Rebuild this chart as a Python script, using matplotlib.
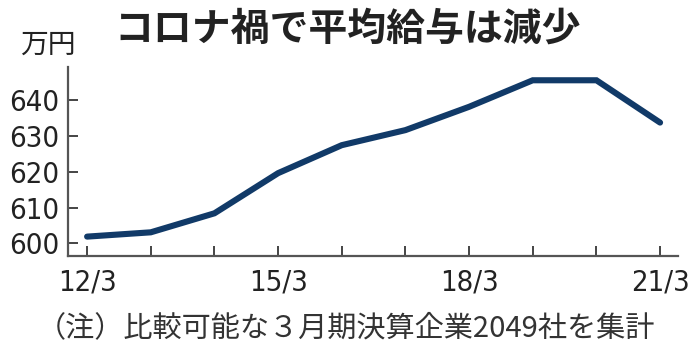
import matplotlib
matplotlib.use('Agg')
import matplotlib.pyplot as plt
import numpy as np

# data (fiscal years ending in March)
years = [12, 13, 14, 15, 16, 17, 18, 19, 20, 21]
salary = [601.9, 603.1, 608.4, 619.6, 627.4, 631.6, 638.1, 645.5, 645.5, 633.7]
yticks = [600, 610, 620, 630, 640]
xticks = [12, 13, 14, 15, 16, 17, 18, 19, 20, 21]
xlabels = ['12/3', '', '', '15/3', '', '', '18/3', '', '', '21/3']

title = 'コロナ禍で平均給与は減少'
unit = '万円'
note = '（注）比較可能な３月期決算企業2049社を集計'

jp = ['Noto Sans CJK JP', 'DejaVu Sans']

fig = plt.figure(figsize=(6.96, 3.61), dpi=100)
ax = fig.add_axes([0.0977, 0.2909, 0.8763, 0.5235])

ax.plot(years, salary, color='#113a68', lw=4.4, solid_capstyle='round',
        solid_joinstyle='miter')

ax.set_xlim(11.70, 21.28)
ax.set_ylim(596.5, 649.2)
ax.set_xticks(xticks)
ax.set_xticklabels(xlabels, family='DejaVu Sans', stretch='condensed',
                   fontsize=21, color='#222222')
ax.set_yticks(yticks)
ax.set_yticklabels([str(v) for v in yticks], family='DejaVu Sans',
                   stretch='condensed', fontsize=21, color='#222222')
ax.tick_params(axis='both', direction='in', length=7, width=1.4,
               color='#444444')
ax.tick_params(axis='x', pad=9)
ax.tick_params(axis='y', pad=6)
for s in ['top', 'right']:
    ax.spines[s].set_visible(False)
for s in ['left', 'bottom']:
    ax.spines[s].set_color('#555555')
    ax.spines[s].set_linewidth(1.6)

fig.text(0.50, 0.92, title, ha='center', va='center', family=jp,
         fontsize=28, fontweight='bold', color='#222222')
fig.text(0.068, 0.877, unit, ha='center', va='center', family=jp,
         fontsize=20, color='#222222')
fig.text(0.497, 0.092, note, ha='center', va='center', family=jp,
         fontsize=21, color='#333333')

fig.savefig('out.png', dpi=100)
